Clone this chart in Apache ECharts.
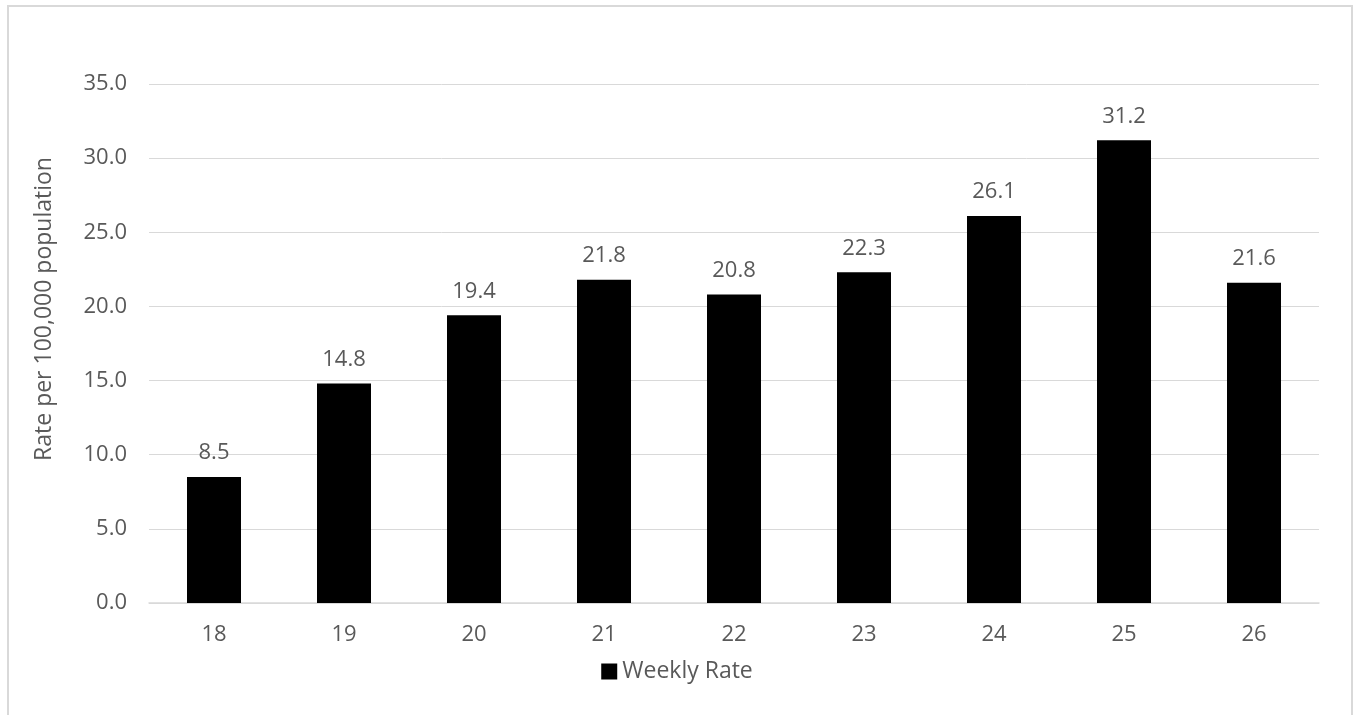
<!DOCTYPE html>
<html>
<head>
<meta charset="utf-8">
<script src="https://cdn.jsdelivr.net/npm/echarts@6/dist/echarts.min.js"></script>
<style>
html,body{margin:0;padding:0;background:#fff;}
#chart{width:1354px;height:715px;}
</style>
</head>
<body>
<div id="chart"></div>
<script>
const categories = ['18','19','20','21','22','23','24','25','26'];
const weeklyRate = [8.5, 14.8, 19.4, 21.8, 20.8, 22.3, 26.1, 31.2, 21.6];
const seriesName = 'Weekly Rate';
const yAxisTitle = 'Rate per 100,000 population';

const FONT = '"Open Sans", sans-serif';
const TXT = '#595959';
const chart = echarts.init(document.getElementById('chart'), null, {renderer:'canvas'});
chart.setOption({
  backgroundColor: '#ffffff',
  animation: false,
  graphic: [{
    type: 'rect',
    shape: {x: 8, y: 6, width: 1344, height: 800},
    style: {fill: 'none', stroke: '#d9d9d9', lineWidth: 2},
    silent: true, z: -1
  }, {
    type: 'text',
    rotation: Math.PI / 2,
    x: 44, y: 309,
    style: {
      text: yAxisTitle, fill: TXT, font: '23px ' + FONT,
      align: 'center', verticalAlign: 'middle'
    }
  }],
  grid: {left: 149, right: 35, top: 84, bottom: 112, containLabel: false},
  legend: {
    data: [seriesName],
    top: 655, left: 'center',
    icon: 'rect', itemWidth: 16, itemHeight: 16, itemGap: 10,
    textStyle: {fontFamily: FONT, fontSize: 23, color: TXT}
  },
  xAxis: {
    type: 'category',
    data: categories,
    axisLine: {show: true, lineStyle: {color: '#d9d9d9', width: 1.5}},
    axisTick: {show: false},
    axisLabel: {fontFamily: FONT, fontSize: 22, color: TXT, margin: 21}
  },
  yAxis: {
    type: 'value',
    min: 0, max: 35, interval: 5,
    axisLine: {show: false},
    axisTick: {show: false},
    splitLine: {lineStyle: {color: '#d9d9d9', width: 1}},
    axisLabel: {
      fontFamily: FONT, fontSize: 22, color: TXT, margin: 22,
      formatter: v => v.toFixed(1)
    }
  },
  series: [{
    name: seriesName,
    type: 'bar',
    data: weeklyRate,
    barWidth: 54,
    itemStyle: {color: '#000000'},
    z: 1,
    label: {
      show: true, position: 'top', distance: 13,
      fontFamily: FONT, fontSize: 22, color: TXT,
      formatter: p => p.value.toFixed(1)
    }
  }]
});
</script>
</body>
</html>
